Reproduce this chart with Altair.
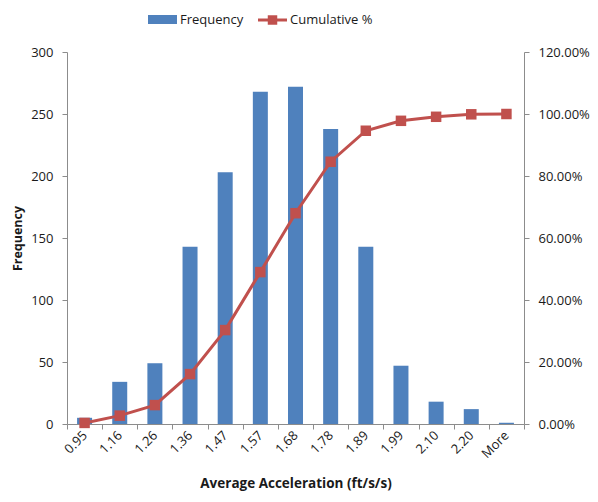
import altair as alt
import pandas as pd

bins = ["0.95", "1.16", "1.26", "1.36", "1.47", "1.57", "1.68", "1.78", "1.89", "1.99", "2.10", "2.20", "More"]
frequency = [5, 34, 49, 143, 203, 268, 272, 238, 143, 47, 18, 12, 1]
cumulative = [0.0035, 0.027, 0.061, 0.161, 0.303, 0.490, 0.680, 0.846, 0.946, 0.978, 0.991, 0.999, 1.000]

df = pd.DataFrame({"bin": bins, "Frequency": frequency, "Cumulative": cumulative})

FONT = "Open Sans"
BLUE = "#4F81BD"
RED = "#C0504D"
TXT = "#1a1a1a"

xenc = alt.X("bin:N", sort=bins,
             scale=alt.Scale(paddingInner=0, paddingOuter=0),
             axis=alt.Axis(title="Average Acceleration  (ft/s/s)", labelAngle=-45,
                           labelAlign="right", labelBaseline="middle",
                           tickBand="extent", tickSize=5, labelPadding=4,
                           titlePadding=16, titleFontSize=13.5, grid=False))

bars = alt.Chart(df).mark_bar(color=BLUE, size=15).encode(
    x=xenc,
    y=alt.Y("Frequency:Q", scale=alt.Scale(domain=[0, 300]),
            axis=alt.Axis(title="Frequency", values=[0, 50, 100, 150, 200, 250, 300],
                          tickSize=5, labelPadding=9, titlePadding=6,
                          titleFontSize=12.5, grid=False)),
)

line = alt.Chart(df).mark_line(
    color=RED, strokeWidth=3,
    point=alt.OverlayMarkDef(shape="square", size=110, filled=True, color=RED, opacity=1),
).encode(
    x=alt.X("bin:N", sort=bins),
    y=alt.Y("Cumulative:Q", scale=alt.Scale(domain=[0, 1.2]),
            axis=alt.Axis(title=None, orient="right", format=".2%",
                          values=[0, 0.2, 0.4, 0.6, 0.8, 1.0, 1.2],
                          tickSize=5, labelPadding=9, grid=False)),
)

main = alt.layer(bars, line).resolve_scale(y="independent")

# legend
leg_bar = alt.Chart(pd.DataFrame({"s": ["Frequency"]})).mark_rect(color=BLUE).encode(
    x=alt.value(81), x2=alt.value(110), y=alt.value(-37), y2=alt.value(-28))
leg_line = alt.Chart(pd.DataFrame({"s": ["Cumulative %"]})).mark_rule(color=RED, strokeWidth=3).encode(
    x=alt.value(191), x2=alt.value(220), y=alt.value(-32))
leg_pt = alt.Chart(pd.DataFrame({"s": ["Cumulative %"]})).mark_point(
    shape="square", size=90, filled=True, color=RED, opacity=1).encode(
    x=alt.value(205.5), y=alt.value(-32))
leg_text = alt.Chart(pd.DataFrame({"s": ["Frequency", "Cumulative %"],
                                   "px": [113, 223]})).mark_text(
    align="left", baseline="middle", font=FONT, fontSize=13, color=TXT).encode(
    x=alt.X("px:Q", scale=None), y=alt.value(-32), text="s:N")

chart = alt.layer(main, leg_bar, leg_line, leg_pt, leg_text).properties(
    width=457, height=372,
    autosize=alt.AutoSizeParams(type="none"),
    padding={"left": 67, "top": 52, "right": 74, "bottom": 78},
    background="white",
).configure_view(stroke=None).configure_axis(
    labelFont=FONT, titleFont=FONT, labelFontSize=13, titleFontSize=13,
    labelColor=TXT, titleColor=TXT, titleFontWeight="bold",
    domainColor="#8c8c8c", tickColor="#8c8c8c", grid=False,
)

chart.save("out.html", embed_options={"renderer": "svg", "actions": False})
